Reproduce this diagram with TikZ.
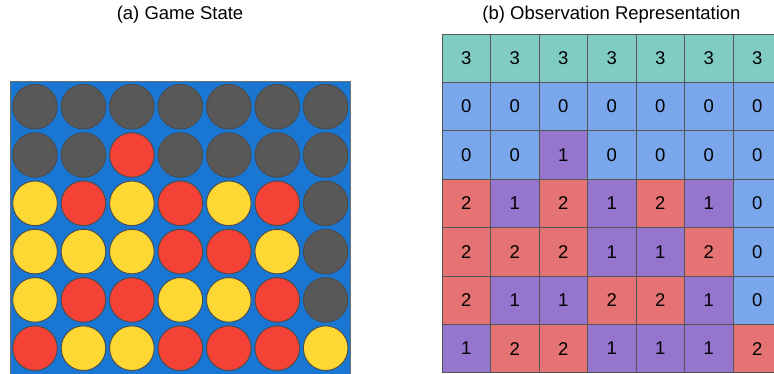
\documentclass[tikz,border=0pt]{standalone}
\usepackage{fontspec}
\setmainfont{Liberation Sans}
% board and disc colours
\definecolor{boardblue}{RGB}{25,118,210}
\definecolor{boardedge}{RGB}{110,110,110}
\definecolor{discedge}{RGB}{75,75,75}
\definecolor{discG}{RGB}{88,88,88}
\definecolor{discR}{RGB}{244,67,54}
\definecolor{discY}{RGB}{253,216,53}
% observation cell colours, indexed by value
\definecolor{cell0}{RGB}{122,166,236}
\definecolor{cell1}{RGB}{149,117,205}
\definecolor{cell2}{RGB}{229,115,115}
\definecolor{cell3}{RGB}{128,203,196}
\definecolor{gridline}{RGB}{85,85,85}
\begin{document}
\begin{tikzpicture}[x=1pt,y=-1pt,
  title/.style={font=\fontsize{18.5}{22}\selectfont, inner sep=0pt},
  board/.style={fill=boardblue, draw=boardedge, line width=1pt},
  disc/.style={circle, draw=discedge, line width=0.9pt, minimum size=44.6pt, inner sep=0pt, outer sep=0pt},
  cellbox/.style={draw=gridline, line width=0.9pt, minimum width=48.5pt, minimum height=48.4pt,
    inner sep=0pt, outer sep=0pt, font=\fontsize{18.5}{22}\selectfont},
]
\useasboundingbox (0,0) rectangle (774,374);
\clip (0,0) rectangle (774,374);

% titles
\node[title] (ta) at (180,15) {(a) Game State};
\node[title] (tb) at (611.5,15) {(b) Observation Representation};

% game board with its discs
\draw[board] (10,82) rectangle (350,420);
\foreach \row [count=\r] in {
  {G,G,G,G,G,G,G},
  {G,G,R,G,G,G,G},
  {Y,R,Y,R,Y,R,G},
  {Y,Y,Y,R,R,Y,G},
  {Y,R,R,Y,Y,R,G},
  {R,Y,Y,R,R,R,Y}}{
  \foreach \c [count=\k] in \row {
    \node[disc, fill=disc\c] (d-\r-\k) at ({35+(\k-1)*48.45},{106.7+(\r-1)*48.3}) {};
  }
}

% observation grid
\foreach \row [count=\r] in {
  {3,3,3,3,3,3,3},
  {0,0,0,0,0,0,0},
  {0,0,1,0,0,0,0},
  {2,1,2,1,2,1,0},
  {2,2,2,1,1,2,0},
  {2,1,1,2,2,1,0},
  {1,2,2,1,1,1,2}}{
  \foreach \v [count=\k] in \row {
    \node[cellbox, fill=cell\v] (o-\r-\k) at ({442+24.25+(\k-1)*48.5},{34+24.2+(\r-1)*48.4}) {\v};
  }
}
\end{tikzpicture}
\end{document}
